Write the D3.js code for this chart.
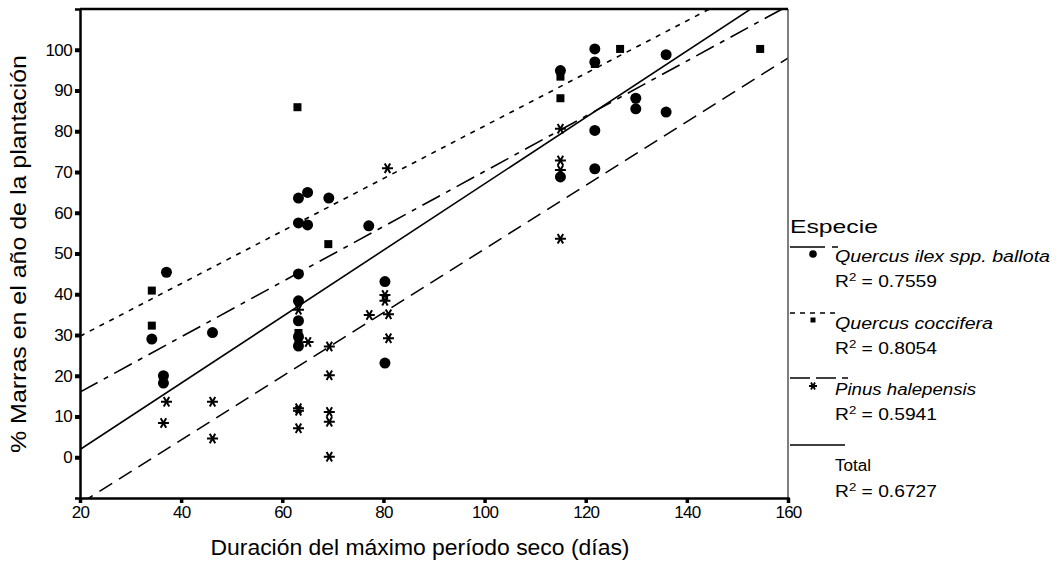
<!DOCTYPE html>
<html>
<head>
<meta charset="utf-8">
<script src="https://cdn.jsdelivr.net/npm/d3@7"></script>
<style>
  body { margin: 0; background: #fff; }
  svg { display: block; font-family: "Liberation Sans", Arial, Helvetica, sans-serif; }
</style>
</head>
<body>
<div id="chart"></div>
<script>
// Quercus ilex spp. ballota (circles)
const ilexX = [37.1, 34.2, 36.5, 36.5, 46.2, 63.2, 65.0, 69.2, 63.2, 65.0, 77.1, 63.2, 63.2, 63.2, 63.2, 63.2,
  80.3, 80.3, 115, 115, 121.8, 121.8, 135.9, 129.9, 129.9, 135.9, 121.8, 121.8];
const ilexY = [45.4, 29.0, 20.0, 18.2, 30.6, 63.6, 65.0, 63.6, 57.5, 57.0, 56.8, 45.0, 38.4, 33.5, 29.6, 27.3,
  43.1, 23.1, 94.9, 68.8, 100.2, 97.0, 98.8, 88.1, 85.5, 84.7, 80.2, 70.8];

// Quercus coccifera (squares)
const coccX = [34.2, 34.2, 63.0, 69.1, 63.2, 63.2, 115, 115, 121.8, 126.8, 154.5];
const coccY = [40.9, 32.3, 85.9, 52.3, 30.5, 28.5, 93.4, 88.1, 96.5, 100.2, 100.2];

// Pinus halepensis (asterisks)
const pinusX = [37.1, 36.5, 46.2, 46.2, 63.2, 65.1, 69.3, 69.3, 63.2, 63.2, 63.2, 69.3, 69.3, 69.3,
  80.3, 80.3, 77.2, 81.0, 81.0, 80.8, 115, 115, 115, 115];
const pinusY = [13.6, 8.4, 13.6, 4.6, 36.2, 28.3, 27.2, 20.1, 12.0, 11.4, 7.1, 11.1, 8.7, 0.1,
  39.8, 38.4, 34.9, 35.1, 29.2, 70.9, 80.6, 72.8, 70.5, 53.6];

// fitted lines: ilex, coccifera, pinus, total
const fitNames = ['ilex', 'cocc', 'pinus', 'total'];
const fitIntercept = [2.46, 16.8, -27.0, -14.4];
const fitSlope = [0.677, 0.645, 0.781, 0.815];
const fitDash = ['20,7,5,7', '5,6', '15,8', null];

const legendSpecies = ['Quercus ilex spp. ballota', 'Quercus coccifera', 'Pinus halepensis', 'Total'];
const legendR2 = ['0.7559', '0.8054', '0.5941', '0.6727'];

const xTicks = [20, 40, 60, 80, 100, 120, 140, 160];
const yTicks = [0, 10, 20, 30, 40, 50, 60, 70, 80, 90, 100];

const width = 1063, height = 581;
const margin = { top: 9, right: 275, bottom: 83, left: 80 };
const in_wi = width - margin.left - margin.right;
const in_he = height - margin.top - margin.bottom;

const svg = d3.select('#chart').append('svg')
  .attr('width', width)
  .attr('height', height)
  .attr('viewBox', `0 0 ${width} ${height}`);

const x_sc = d3.scaleLinear().domain([20, 160]).range([margin.left, margin.left + in_wi]);
const y_sc = d3.scaleLinear().domain([-10, 110]).range([margin.top + in_he, margin.top]);

svg.append('clipPath').attr('id', 'plotclip')
  .append('rect')
  .attr('x', margin.left).attr('y', margin.top)
  .attr('width', in_wi).attr('height', in_he);

// fitted lines
const fits = svg.append('g').attr('clip-path', 'url(#plotclip)');
fitNames.forEach((nm, i) => {
  const f = xv => fitIntercept[i] + fitSlope[i] * xv;
  fits.append('line')
    .attr('x1', x_sc(20)).attr('y1', y_sc(f(20)))
    .attr('x2', x_sc(160)).attr('y2', y_sc(f(160)))
    .attr('stroke', '#000')
    .attr('stroke-width', 1.6)
    .attr('stroke-dasharray', fitDash[i]);
});

// asterisk path: 3 strokes through centre
function starPath(r) {
  const p = [];
  [0, 60, 120].forEach(a => {
    const t = a * Math.PI / 180;
    const dx = r * Math.cos(t), dy = r * Math.sin(t);
    p.push(`M${-dx},${-dy}L${dx},${dy}`);
  });
  return p.join('');
}

const pts = svg.append('g');

pts.selectAll('.ilex')
  .data(d3.zip(ilexX, ilexY))
  .enter().append('circle')
  .attr('class', 'ilex')
  .attr('cx', d => x_sc(d[0]))
  .attr('cy', d => y_sc(d[1]))
  .attr('r', 5.5)
  .attr('fill', '#000');

pts.selectAll('.cocc')
  .data(d3.zip(coccX, coccY))
  .enter().append('rect')
  .attr('class', 'cocc')
  .attr('x', d => x_sc(d[0]) - 4)
  .attr('y', d => y_sc(d[1]) - 4)
  .attr('width', 8)
  .attr('height', 8)
  .attr('fill', '#000');

pts.selectAll('.pinus')
  .data(d3.zip(pinusX, pinusY))
  .enter().append('path')
  .attr('class', 'pinus')
  .attr('transform', d => `translate(${x_sc(d[0])},${y_sc(d[1])})`)
  .attr('d', starPath(5.5))
  .attr('stroke', '#000')
  .attr('stroke-width', 2)
  .attr('fill', 'none');

// frame
svg.append('line')
  .attr('x1', x_sc(160)).attr('x2', x_sc(160))
  .attr('y1', margin.top).attr('y2', margin.top + in_he)
  .attr('stroke', '#555').attr('stroke-width', 1.5);
svg.append('line')
  .attr('x1', margin.left).attr('x2', x_sc(160))
  .attr('y1', margin.top).attr('y2', margin.top)
  .attr('stroke', '#000').attr('stroke-width', 2.5);

// axes
const yAxis = svg.append('g')
  .attr('transform', `translate(${margin.left},0)`)
  .call(d3.axisLeft(y_sc).tickValues(yTicks).tickSize(5).tickPadding(3));
yAxis.select('.domain').attr('stroke-width', 2.5);
yAxis.selectAll('.tick line').attr('stroke-width', 4);
yAxis.selectAll('.tick text')
  .attr('font-size', 17)
  .attr('letter-spacing', -0.6)
  .attr('fill', '#000');

const xAxis = svg.append('g')
  .attr('transform', `translate(0,${margin.top + in_he})`)
  .call(d3.axisBottom(x_sc).tickValues(xTicks).tickSize(5).tickPadding(3));
xAxis.select('.domain').attr('stroke-width', 2.5);
xAxis.selectAll('.tick line').attr('stroke-width', 3.5);
xAxis.selectAll('.tick text')
  .attr('font-size', 17)
  .attr('letter-spacing', -0.8)
  .attr('fill', '#000');
svg.selectAll('.domain').attr('stroke', '#000');

// axis titles
svg.append('text')
  .attr('x', margin.left + in_wi / 2 - 14)
  .attr('y', 555)
  .attr('text-anchor', 'middle')
  .attr('font-size', 22)
  .attr('textLength', 419)
  .attr('lengthAdjust', 'spacingAndGlyphs')
  .text('Duración del máximo período seco (días)');

svg.append('text')
  .attr('transform', `translate(26,254) rotate(-90)`)
  .attr('text-anchor', 'middle')
  .attr('font-size', 22)
  .attr('textLength', 398)
  .attr('lengthAdjust', 'spacingAndGlyphs')
  .text('% Marras en el año de la plantación');

// legend
const lg = svg.append('g');
const lx = 790, tx = 835;
lg.append('text')
  .attr('x', lx).attr('y', 233)
  .attr('font-size', 19)
  .attr('textLength', 88)
  .attr('lengthAdjust', 'spacingAndGlyphs')
  .text('Especie');

const lineY = [247, 313, 378, 445];
const lineLen = [48, 49, 58, 55];
const lgDash = ['35,7,7,10', '5,5', '20,6', null];
const nameY = [262, 329, 395, 471];
const nameW = [215, 158, 141, 36];
const r2Y = [287, 354, 420, 497];
const markY = [254, 320, 386];

lineY.forEach((ly, i) => {
  lg.append('line')
    .attr('x1', lx).attr('x2', lx + lineLen[i])
    .attr('y1', ly).attr('y2', ly)
    .attr('stroke', '#000').attr('stroke-width', 1.5)
    .attr('stroke-dasharray', lgDash[i]);

  lg.append('text')
    .attr('x', tx).attr('y', nameY[i])
    .attr('font-size', 16)
    .attr('font-style', i === 3 ? 'normal' : 'italic')
    .attr('textLength', nameW[i])
    .attr('lengthAdjust', 'spacingAndGlyphs')
    .text(legendSpecies[i]);

  const r2 = lg.append('text')
    .attr('x', tx).attr('y', r2Y[i])
    .attr('font-size', 16)
    .attr('textLength', 102)
    .attr('lengthAdjust', 'spacingAndGlyphs');
  r2.append('tspan').text('R');
  r2.append('tspan').attr('dy', -6).attr('font-size', 11).text('2');
  r2.append('tspan').attr('dy', 6).text(' = ' + legendR2[i]);
});

lg.append('circle').attr('cx', 813).attr('cy', markY[0]).attr('r', 3.8).attr('fill', '#000');
lg.append('rect').attr('x', 810.5).attr('y', markY[1] - 2.5).attr('width', 5).attr('height', 5).attr('fill', '#000');
lg.append('path')
  .attr('transform', `translate(813,${markY[2]})`)
  .attr('d', starPath(4))
  .attr('stroke', '#000').attr('stroke-width', 1.8).attr('fill', 'none');
</script>
</body>
</html>
